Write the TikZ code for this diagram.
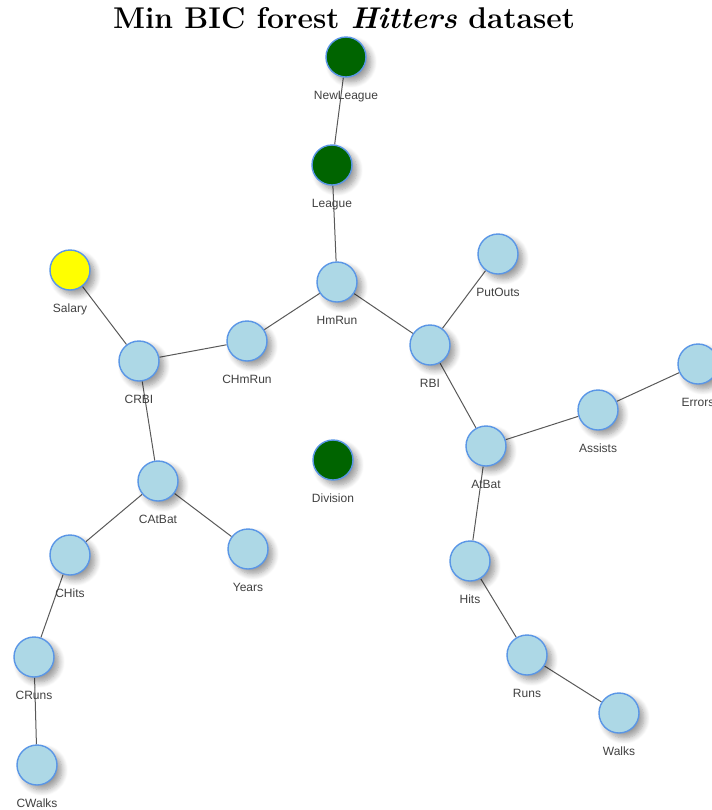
\documentclass[tikz,border=0pt]{standalone}
\usepackage{fontspec}
\newfontfamily\labelfont{Liberation Sans}
\usepackage{tikz}
\usetikzlibrary{shadows.blur}
\usetikzlibrary{backgrounds}

\definecolor{varblue}{HTML}{ADD8E6}
\definecolor{vargreen}{HTML}{006400}
\definecolor{varyellow}{HTML}{FFFF00}
\definecolor{varedge}{HTML}{5A96E6}
\definecolor{labgray}{HTML}{404040}

\begin{document}
\begin{tikzpicture}[x=0.5pt, y=-0.5pt,
    var/.style={circle, draw=varedge, line width=0.7pt, fill=varblue,
        minimum size=20pt, inner sep=0pt,
        blur shadow={shadow xshift=2.5pt, shadow yshift=-2.5pt,
            shadow blur radius=3pt, shadow blur steps=8, shadow opacity=40}},
    disc/.style={var, fill=vargreen},
    target/.style={var, fill=varyellow},
    lab/.style={font=\labelfont\fontsize{6}{7}\selectfont, text=labgray,
        inner sep=0pt, label distance=6.5pt},
    link/.style={draw=black!65, line width=0.5pt}]

\useasboundingbox (0,0) rectangle (712,810);

% titolo
\node (title) at (344,18) {\fontsize{15}{18}\selectfont\bfseries Min BIC forest \textit{Hitters} dataset};

% variabili discrete
\node[disc, label={[lab]below:NewLeague}] (newleague) at (346,57) {};
\node[disc, label={[lab]below:League}] (league) at (332,165) {};
\node[disc, label={[lab]below:Division}] (division) at (333,460) {};

% risposta
\node[target, label={[lab]below:Salary}] (salary) at (70,270) {};

% variabili continue
\node[var, label={[lab]below:HmRun}] (hmrun) at (337,282) {};
\node[var, label={[lab]below:CRBI}] (crbi) at (139,361) {};
\node[var, label={[lab]below:CHmRun}] (chmrun) at (247,341) {};
\node[var, label={[lab]below:PutOuts}] (putouts) at (498,254) {};
\node[var, label={[lab]below:RBI}] (rbi) at (430,345) {};
\node[var, label={[lab]below:Errors}] (errors) at (698,364) {};
\node[var, label={[lab]below:Assists}] (assists) at (598,410) {};
\node[var, label={[lab]below:AtBat}] (atbat) at (486,446) {};
\node[var, label={[lab]below:CAtBat}] (catbat) at (158,481) {};
\node[var, label={[lab]below:Years}] (years) at (248,549) {};
\node[var, label={[lab]below:CHits}] (chits) at (70,555) {};
\node[var, label={[lab]below:Hits}] (hits) at (470,561) {};
\node[var, label={[lab]below:Runs}] (runs) at (527,655) {};
\node[var, label={[lab]below:CRuns}] (cruns) at (34,657) {};
\node[var, label={[lab]below:Walks}] (walks) at (619,713) {};
\node[var, label={[lab]below:CWalks}] (cwalks) at (37,765) {};

% archi (sotto i nodi)
\begin{pgfonlayer}{background}
\draw[link] (newleague) -- (league) -- (hmrun);
\draw[link] (hmrun) -- (chmrun) -- (crbi) -- (salary);
\draw[link] (crbi) -- (catbat) -- (chits) -- (cruns) -- (cwalks);
\draw[link] (catbat) -- (years);
\draw[link] (hmrun) -- (rbi) -- (putouts);
\draw[link] (rbi) -- (atbat) -- (assists) -- (errors);
\draw[link] (atbat) -- (hits) -- (runs) -- (walks);
\end{pgfonlayer}

\end{tikzpicture}
\end{document}
